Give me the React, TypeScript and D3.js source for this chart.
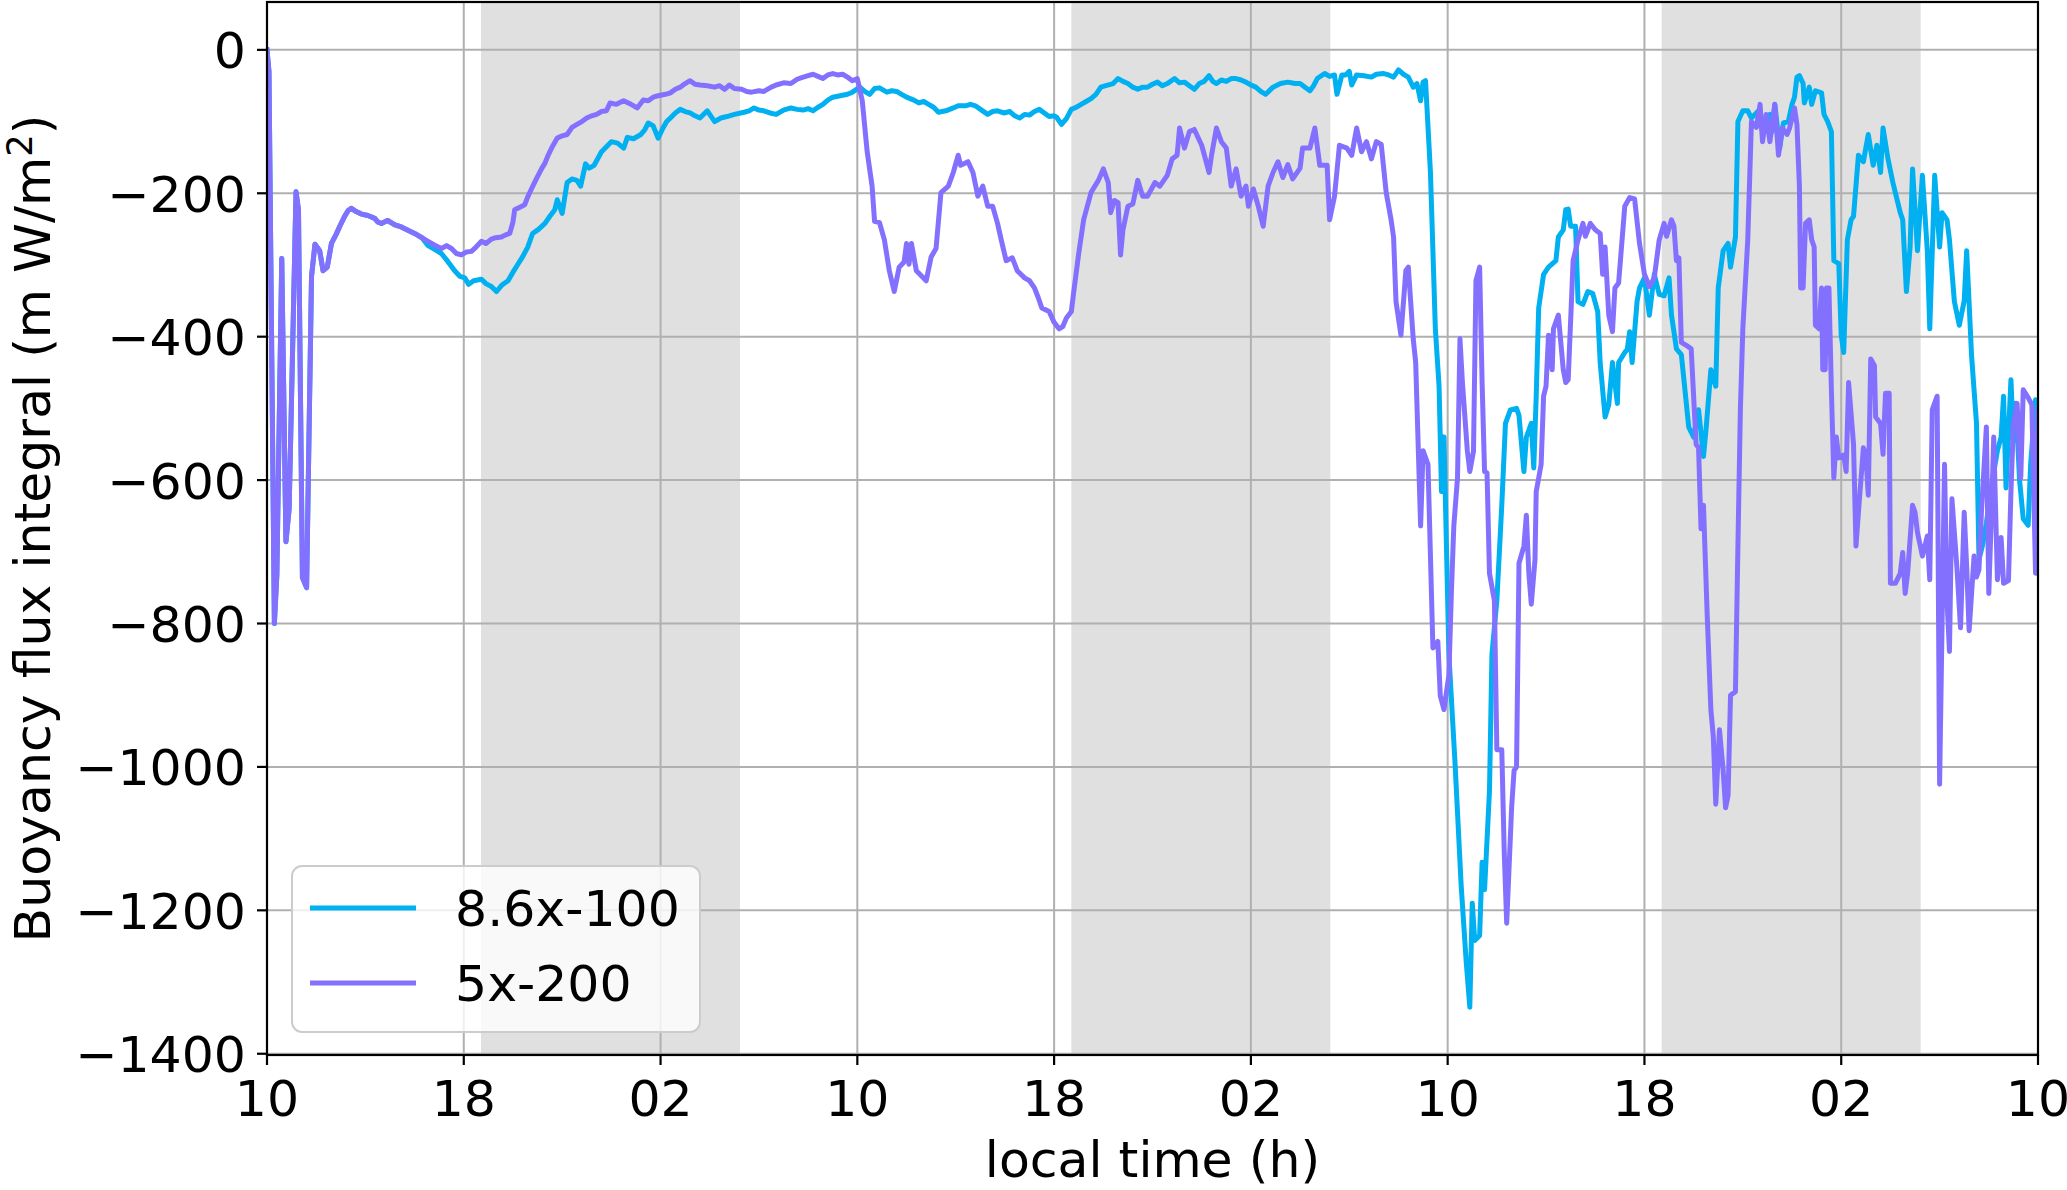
import React, { useEffect, useRef } from "react";
import * as d3 from "d3";

// hours since 10:00 of day 1
const xTickHours = [0, 8, 16, 24, 32, 40, 48, 56, 64, 72];
const xTickLabels = ["10", "18", "02", "10", "18", "02", "10", "18", "02", "10"];
const yTicks = [0, -200, -400, -600, -800, -1000, -1200, -1400];

// night (shaded) intervals
const nightStarts = [8.7, 32.7, 56.7];
const nightEnds = [19.23, 43.23, 67.23];

const seriesNames = ["8.6x-100", "5x-200"];
const seriesColors = ["#00b0f0", "#8470ff"];

// both runs are identical during the first hours
const sharedStart: [number, number][] = [
  [0.0, 0], [0.08, -30], [0.3, -800], [0.4, -733], [0.6, -291], [0.77, -686], [0.9, -640],
  [1.18, -198], [1.28, -223], [1.44, -736], [1.61, -750], [1.81, -316], [1.95, -271],
  [2.14, -280], [2.28, -308], [2.45, -303], [2.62, -270], [2.8, -258], [2.96, -246],
  [3.16, -232], [3.3, -224], [3.43, -221], [3.6, -225], [3.84, -229], [4.1, -231],
  [4.38, -235], [4.5, -240], [4.65, -242], [4.9, -238], [5.2, -244], [5.46, -247],
  [5.75, -252], [6.0, -256], [6.3, -262],
];

const cyanRest: [number, number][] = [
  [6.55, -273], [6.8, -278], [7.09, -284], [7.35, -295], [7.63, -308], [7.85, -316], [8.04, -318],
  [8.2, -327], [8.4, -322], [8.72, -320], [8.9, -326], [9.12, -330], [9.33, -337], [9.55, -328],
  [9.8, -322], [10.0, -310], [10.2, -299], [10.4, -288], [10.6, -275], [10.8, -256], [11.05, -250],
  [11.3, -242], [11.5, -232], [11.7, -223], [11.8, -209], [12.0, -228], [12.2, -185], [12.4, -180],
  [12.6, -182], [12.75, -190], [12.95, -159], [13.1, -165], [13.3, -161], [13.6, -142], [13.8, -135],
  [14.0, -128], [14.25, -130], [14.5, -137], [14.65, -122], [14.9, -124], [15.2, -118], [15.35, -112],
  [15.5, -102], [15.7, -106], [15.9, -123], [16.1, -109], [16.25, -100], [16.4, -95], [16.6, -88],
  [16.8, -83], [17.0, -86], [17.2, -88], [17.4, -92], [17.6, -95], [17.9, -85], [18.2, -100],
  [18.45, -95], [18.7, -93], [19.0, -90], [19.4, -87], [19.6, -85], [19.8, -81], [20.0, -84],
  [20.2, -85], [20.45, -88], [20.7, -90], [21.0, -84], [21.3, -81], [21.55, -83], [21.8, -84],
  [22.0, -82], [22.2, -85], [22.4, -80], [22.6, -76], [22.8, -70], [23.0, -66], [23.3, -64],
  [23.6, -62], [23.8, -59], [24.1, -52], [24.3, -58], [24.5, -62], [24.7, -54], [24.9, -53],
  [25.2, -59], [25.4, -57], [25.6, -58], [25.8, -62], [26.0, -66], [26.3, -70], [26.5, -74],
  [26.7, -72], [26.9, -76], [27.1, -80], [27.3, -87], [27.6, -85], [27.9, -81], [28.1, -78],
  [28.4, -78], [28.6, -76], [28.8, -78], [29.05, -84], [29.3, -90], [29.5, -86], [29.7, -85],
  [29.95, -88], [30.2, -86], [30.4, -92], [30.6, -95], [30.8, -90], [31.0, -91], [31.2, -86],
  [31.4, -83], [31.6, -88], [31.8, -93], [32.0, -92], [32.1, -94], [32.3, -104], [32.5, -96],
  [32.7, -83], [32.9, -80], [33.1, -76], [33.3, -72], [33.5, -68], [33.7, -62], [33.9, -52],
  [34.1, -50], [34.4, -47], [34.6, -40], [34.8, -44], [35.0, -47], [35.2, -52], [35.4, -55],
  [35.6, -52], [35.8, -52], [36.0, -48], [36.2, -45], [36.4, -50], [36.6, -47], [36.9, -40],
  [37.1, -46], [37.3, -45], [37.5, -50], [37.7, -55], [37.9, -47], [38.1, -44], [38.3, -36],
  [38.45, -44], [38.6, -47], [38.8, -42], [39.0, -44], [39.2, -40], [39.4, -40], [39.6, -42],
  [39.8, -45], [40.0, -49], [40.2, -52], [40.4, -58], [40.6, -62], [40.9, -52], [41.2, -47],
  [41.5, -45], [41.8, -47], [42.0, -47], [42.2, -52], [42.4, -57], [42.55, -50], [42.7, -40],
  [43.0, -33], [43.2, -37], [43.4, -35], [43.5, -62], [43.7, -35], [43.85, -35], [44.0, -30],
  [44.1, -49], [44.3, -35], [44.6, -36], [44.9, -38], [45.1, -34], [45.4, -33], [45.6, -35],
  [45.8, -38], [46.0, -28], [46.2, -34], [46.4, -38], [46.6, -52], [46.75, -47], [46.9, -71],
  [47.0, -45], [47.1, -43], [47.3, -171], [47.5, -389], [47.65, -469], [47.75, -616], [47.8, -540],
  [47.85, -540], [47.95, -692], [48.05, -843], [48.3, -995], [48.55, -1166], [48.75, -1270],
  [48.9, -1335], [49.0, -1190], [49.1, -1242], [49.3, -1235], [49.4, -1133], [49.5, -1171],
  [49.7, -1033], [49.8, -843], [50.0, -768], [50.2, -635], [50.35, -521], [50.55, -502],
  [50.8, -500], [50.9, -510], [51.1, -588], [51.2, -540], [51.4, -521], [51.5, -583], [51.6, -483],
  [51.7, -360], [51.9, -313], [52.1, -303], [52.4, -294], [52.5, -261], [52.7, -251], [52.8, -223],
  [52.9, -222], [53.0, -246], [53.2, -246], [53.3, -351], [53.5, -355], [53.7, -337], [53.9, -340],
  [54.1, -365], [54.2, -436], [54.4, -512], [54.55, -495], [54.7, -436], [54.9, -493], [54.95, -436],
  [55.2, -422], [55.3, -418], [55.4, -393], [55.5, -436], [55.7, -351], [55.8, -332], [56.0, -318],
  [56.2, -370], [56.4, -313], [56.6, -341], [56.8, -343], [57.0, -318], [57.1, -370], [57.3, -417],
  [57.5, -425], [57.8, -526], [58.0, -540], [58.2, -502], [58.4, -567], [58.5, -531], [58.7, -446],
  [58.9, -469], [59.0, -332], [59.2, -280], [59.4, -270], [59.5, -303], [59.7, -261], [59.8, -100],
  [60.0, -85], [60.2, -85], [60.35, -95], [60.5, -90], [60.6, -86], [60.8, -114], [60.95, -95],
  [61.1, -90], [61.2, -114], [61.3, -76], [61.5, -137], [61.65, -102], [61.85, -100], [62.0, -76],
  [62.1, -66], [62.2, -38], [62.3, -36], [62.45, -47], [62.5, -74], [62.7, -52], [62.8, -76],
  [62.95, -57], [63.2, -60], [63.3, -90], [63.45, -100], [63.6, -114], [63.7, -294], [63.9, -298],
  [64.0, -398], [64.1, -422], [64.25, -265], [64.4, -237], [64.5, -232], [64.7, -147], [64.9, -156],
  [65.1, -118], [65.3, -161], [65.45, -133], [65.6, -171], [65.7, -109], [65.9, -152], [66.1, -185],
  [66.2, -199], [66.4, -227], [66.5, -237], [66.65, -337], [66.8, -275], [66.9, -166], [67.1, -280],
  [67.3, -175], [67.5, -280], [67.6, -389], [67.8, -175], [68.0, -275], [68.1, -227], [68.3, -237],
  [68.4, -265], [68.6, -351], [68.8, -384], [69.0, -350], [69.1, -280], [69.3, -427], [69.4, -474],
  [69.5, -521], [69.6, -711], [69.75, -690], [69.9, -660], [70.1, -610], [70.35, -559], [70.5, -540],
  [70.6, -483], [70.7, -611], [70.9, -460], [71.0, -545], [71.1, -493], [71.25, -600], [71.4, -654],
  [71.6, -663], [71.7, -578], [71.9, -488], [72.0, -659],
];

const purpleRest: [number, number][] = [
  [6.55, -267], [6.8, -272], [7.09, -277], [7.3, -273], [7.5, -277], [7.7, -284], [7.9, -286],
  [8.1, -282], [8.31, -281], [8.5, -275], [8.72, -267], [8.9, -270], [9.12, -264], [9.3, -262],
  [9.53, -261], [9.7, -258], [9.87, -256], [10.0, -240], [10.07, -223], [10.3, -219], [10.48, -216],
  [10.6, -205], [10.75, -194], [10.95, -180], [11.16, -166], [11.3, -158], [11.43, -147], [11.6, -135],
  [11.8, -123], [12.0, -120], [12.2, -118], [12.4, -108], [12.6, -104], [12.8, -100], [13.0, -95],
  [13.2, -92], [13.4, -90], [13.6, -86], [13.8, -85], [13.95, -74], [14.2, -76], [14.5, -71],
  [14.8, -76], [15.05, -81], [15.3, -70], [15.5, -71], [15.7, -66], [15.9, -64], [16.2, -62],
  [16.4, -60], [16.6, -55], [16.8, -52], [17.0, -47], [17.2, -43], [17.4, -48], [17.6, -49],
  [17.9, -50], [18.2, -52], [18.4, -50], [18.6, -55], [18.8, -49], [19.0, -54], [19.3, -55],
  [19.5, -58], [19.7, -59], [20.0, -57], [20.2, -58], [20.5, -52], [20.7, -49], [21.0, -46],
  [21.3, -47], [21.55, -41], [21.8, -38], [22.0, -36], [22.2, -34], [22.4, -37], [22.6, -40],
  [22.8, -35], [23.0, -33], [23.2, -35], [23.4, -34], [23.6, -38], [23.8, -43], [24.0, -40],
  [24.2, -71], [24.4, -142], [24.6, -190], [24.7, -239], [24.9, -241], [25.1, -265], [25.3, -308],
  [25.5, -337], [25.7, -303], [25.9, -296], [26.0, -270], [26.1, -299], [26.2, -270], [26.4, -308],
  [26.6, -315], [26.8, -322], [27.0, -289], [27.2, -277], [27.4, -199], [27.7, -190], [27.9, -171],
  [28.1, -147], [28.2, -161], [28.5, -156], [28.7, -171], [28.9, -204], [29.1, -190], [29.3, -218],
  [29.5, -218], [29.7, -242], [29.85, -265], [30.05, -294], [30.3, -290], [30.5, -308], [30.8, -318],
  [31.0, -322], [31.2, -332], [31.35, -345], [31.5, -360], [31.8, -365], [32.0, -380], [32.2, -389],
  [32.35, -386], [32.5, -374], [32.7, -365], [32.8, -337], [33.0, -284], [33.2, -237], [33.5, -199],
  [33.8, -182], [34.0, -166], [34.2, -185], [34.3, -227], [34.45, -210], [34.6, -213], [34.7, -286],
  [34.8, -251], [35.0, -218], [35.2, -215], [35.4, -182], [35.6, -204], [35.8, -204], [36.1, -185],
  [36.3, -190], [36.6, -175], [36.8, -152], [37.0, -147], [37.1, -109], [37.3, -137], [37.5, -114],
  [37.7, -111], [38.0, -133], [38.3, -171], [38.4, -147], [38.6, -109], [38.8, -128], [39.0, -137],
  [39.2, -190], [39.4, -166], [39.6, -204], [39.8, -190], [39.9, -218], [40.1, -194], [40.3, -218],
  [40.5, -246], [40.7, -190], [40.9, -171], [41.1, -156], [41.3, -178], [41.5, -160], [41.7, -180],
  [42.0, -165], [42.1, -137], [42.4, -137], [42.6, -109], [42.8, -161], [43.1, -161], [43.2, -237],
  [43.4, -204], [43.6, -133], [43.9, -137], [44.1, -147], [44.3, -109], [44.5, -142], [44.7, -128],
  [44.9, -152], [45.1, -128], [45.3, -132], [45.5, -199], [45.7, -237], [45.8, -261], [45.9, -351],
  [46.1, -398], [46.3, -308], [46.4, -303], [46.6, -403], [46.7, -436], [46.9, -664], [47.0, -559],
  [47.2, -578], [47.4, -834], [47.6, -825], [47.7, -901], [47.85, -920], [48.05, -872], [48.15, -758],
  [48.25, -664], [48.4, -597], [48.5, -403], [48.6, -464], [48.8, -559], [48.9, -588], [49.05, -560],
  [49.15, -322], [49.3, -303], [49.4, -464], [49.5, -588], [49.6, -590], [49.7, -730], [49.9, -768],
  [50.0, -976], [50.2, -976], [50.3, -1119], [50.4, -1218], [50.6, -1057], [50.7, -1005],
  [50.8, -1000], [50.9, -716], [51.1, -692], [51.2, -649], [51.3, -730], [51.4, -773], [51.55, -711],
  [51.6, -616], [51.8, -578], [51.9, -483], [52.0, -469], [52.1, -398], [52.25, -446], [52.3, -389],
  [52.5, -370], [52.7, -446], [52.8, -464], [52.9, -460], [53.1, -294], [53.3, -265], [53.5, -242],
  [53.6, -260], [53.8, -242], [54.0, -251], [54.2, -256], [54.3, -313], [54.4, -275], [54.55, -370],
  [54.7, -393], [54.8, -332], [54.95, -325], [55.2, -218], [55.4, -206], [55.6, -208], [55.8, -270],
  [56.0, -313], [56.2, -330], [56.4, -318], [56.6, -265], [56.8, -242], [56.9, -260], [57.1, -237],
  [57.2, -246], [57.3, -294], [57.4, -290], [57.5, -408], [57.7, -412], [57.9, -417], [58.1, -550],
  [58.2, -555], [58.3, -668], [58.4, -635], [58.55, -787], [58.7, -920], [58.8, -958], [58.9, -1052],
  [59.05, -948], [59.2, -1005], [59.3, -1057], [59.4, -1040], [59.5, -900], [59.7, -895],
  [59.8, -692], [59.9, -502], [60.0, -389], [60.2, -265], [60.35, -100], [60.55, -108], [60.7, -76],
  [60.8, -128], [60.95, -90], [61.1, -128], [61.3, -76], [61.45, -147], [61.6, -109], [61.8, -118],
  [61.9, -109], [62.1, -81], [62.2, -104], [62.3, -190], [62.35, -332], [62.45, -332], [62.55, -242],
  [62.7, -237], [62.8, -265], [62.9, -275], [62.95, -384], [63.1, -389], [63.2, -332], [63.25, -446],
  [63.35, -446], [63.4, -332], [63.5, -332], [63.6, -474], [63.7, -597], [63.8, -540], [63.9, -569],
  [64.1, -565], [64.2, -588], [64.3, -464], [64.5, -550], [64.6, -692], [64.7, -645], [64.9, -555],
  [65.0, -564], [65.1, -621], [65.2, -431], [65.35, -440], [65.4, -512], [65.6, -521], [65.7, -564],
  [65.8, -479], [65.95, -479], [66.0, -744], [66.2, -744], [66.4, -730], [66.5, -701], [66.6, -758],
  [66.7, -730], [66.9, -635], [67.0, -645], [67.1, -673], [67.3, -706], [67.5, -678], [67.6, -739],
  [67.7, -502], [67.9, -483], [68.0, -1024], [68.2, -578], [68.3, -767], [68.4, -839], [68.5, -626],
  [68.7, -720], [68.85, -806], [69.0, -645], [69.1, -720], [69.2, -810], [69.4, -706], [69.5, -735],
  [69.6, -725], [69.7, -645], [69.9, -526], [70.0, -758], [70.15, -600], [70.2, -540], [70.35, -739],
  [70.5, -680], [70.6, -744], [70.8, -740], [70.9, -616], [71.0, -521], [71.15, -493], [71.3, -597],
  [71.4, -474], [71.6, -485], [71.75, -495], [71.9, -730], [72.0, -502],
];

const series86 = [...sharedStart, ...cyanRest];
const series5 = [...sharedStart, ...purpleRest];

export default function App() {
  const ref = useRef<SVGSVGElement | null>(null);

  useEffect(() => {
    const width = 2067;
    const height = 1190;
    const left = 267;
    const right = 2038;
    const top = 2;
    const bottom = 1055;
    const font = "DejaVu Sans, sans-serif";
    const fs = 50.5;
    const lw = 5;

    const svg = d3.select(ref.current);
    svg.selectAll("*").remove();
    svg.attr("width", width).attr("height", height);

    const xScale = d3.scaleLinear().domain([0, 72]).range([left, right]);
    const yScale = d3.scaleLinear().domain([-1401.75, 66.75]).range([bottom, top]);

    svg.append("rect").attr("width", width).attr("height", height).attr("fill", "white");

    svg
      .append("defs")
      .append("clipPath")
      .attr("id", "plotclip")
      .append("rect")
      .attr("x", left)
      .attr("y", top)
      .attr("width", right - left)
      .attr("height", bottom - top);

    // night shading
    svg
      .append("g")
      .selectAll("rect")
      .data(nightStarts)
      .join("rect")
      .attr("x", (d) => xScale(d))
      .attr("y", top)
      .attr("width", (d, i) => xScale(nightEnds[i]) - xScale(d))
      .attr("height", bottom - top)
      .attr("fill", "#e0e0e0");

    // grid
    const grid = svg.append("g").attr("stroke", "#b0b0b0").attr("stroke-width", 2);
    grid
      .selectAll("line.vx")
      .data(xTickHours)
      .join("line")
      .attr("class", "vx")
      .attr("x1", (d) => xScale(d))
      .attr("x2", (d) => xScale(d))
      .attr("y1", top)
      .attr("y2", bottom);
    grid
      .selectAll("line.hy")
      .data(yTicks)
      .join("line")
      .attr("class", "hy")
      .attr("x1", left)
      .attr("x2", right)
      .attr("y1", (d) => yScale(d))
      .attr("y2", (d) => yScale(d));

    // data lines
    const line = d3
      .line<[number, number]>()
      .x((d) => xScale(d[0]))
      .y((d) => yScale(d[1]));

    const lines = svg.append("g").attr("clip-path", "url(#plotclip)");
    [series86, series5].forEach((s, i) => {
      lines
        .append("path")
        .attr("d", line(s))
        .attr("fill", "none")
        .attr("stroke", seriesColors[i])
        .attr("stroke-width", lw)
        .attr("stroke-linejoin", "round")
        .attr("stroke-linecap", "square");
    });

    // spines
    svg
      .append("rect")
      .attr("x", left)
      .attr("y", top)
      .attr("width", right - left)
      .attr("height", bottom - top)
      .attr("fill", "none")
      .attr("stroke", "black")
      .attr("stroke-width", 2.2);

    // x ticks
    const xt = svg.append("g");
    xTickHours.forEach((h, i) => {
      xt.append("line")
        .attr("x1", xScale(h))
        .attr("x2", xScale(h))
        .attr("y1", bottom)
        .attr("y2", bottom + 10)
        .attr("stroke", "black")
        .attr("stroke-width", 2.2);
      xt.append("text")
        .attr("x", xScale(h))
        .attr("y", 1116)
        .attr("text-anchor", "middle")
        .style("font-family", font)
        .style("font-size", `${fs}px`)
        .text(xTickLabels[i]);
    });

    // y ticks
    const yt = svg.append("g");
    yTicks.forEach((v) => {
      yt.append("line")
        .attr("x1", left - 10)
        .attr("x2", left)
        .attr("y1", yScale(v))
        .attr("y2", yScale(v))
        .attr("stroke", "black")
        .attr("stroke-width", 2.2);
      yt.append("text")
        .attr("x", 246)
        .attr("y", yScale(v) + fs * 0.365)
        .attr("text-anchor", "end")
        .style("font-family", font)
        .style("font-size", `${fs}px`)
        .text(v < 0 ? `\u2212${Math.abs(v)}` : `${v}`);
    });

    // axis labels
    svg
      .append("text")
      .attr("x", (left + right) / 2)
      .attr("y", 1177)
      .attr("text-anchor", "middle")
      .style("font-family", font)
      .style("font-size", `${fs}px`)
      .text("local time (h)");

    const yl = svg
      .append("text")
      .attr("transform", `translate(50, ${(top + bottom) / 2}) rotate(-90)`)
      .attr("text-anchor", "middle")
      .style("font-family", font)
      .style("font-size", `${fs}px`);
    yl.append("tspan").text("Buoyancy flux integral (m W/m");
    yl.append("tspan").attr("dy", -18).style("font-size", `${fs * 0.7}px`).text("2");
    yl.append("tspan").attr("dy", 18).text(")");

    // legend
    const lg = svg.append("g");
    lg.append("rect")
      .attr("x", 292)
      .attr("y", 866)
      .attr("width", 408)
      .attr("height", 166)
      .attr("rx", 10)
      .attr("fill", "white")
      .attr("fill-opacity", 0.8)
      .attr("stroke", "#cccccc")
      .attr("stroke-width", 2);
    seriesNames.forEach((name, i) => {
      const cy = 908 + i * 75;
      lg.append("line")
        .attr("x1", 310)
        .attr("x2", 416)
        .attr("y1", cy)
        .attr("y2", cy)
        .attr("stroke", seriesColors[i])
        .attr("stroke-width", lw);
      lg.append("text")
        .attr("x", 455)
        .attr("y", cy + fs * 0.365)
        .style("font-family", font)
        .style("font-size", `${fs}px`)
        .text(name);
    });
  }, []);

  return (
    <div style={{ position: "absolute", left: 0, top: 0 }}>
      <svg ref={ref} />
    </div>
  );
}
